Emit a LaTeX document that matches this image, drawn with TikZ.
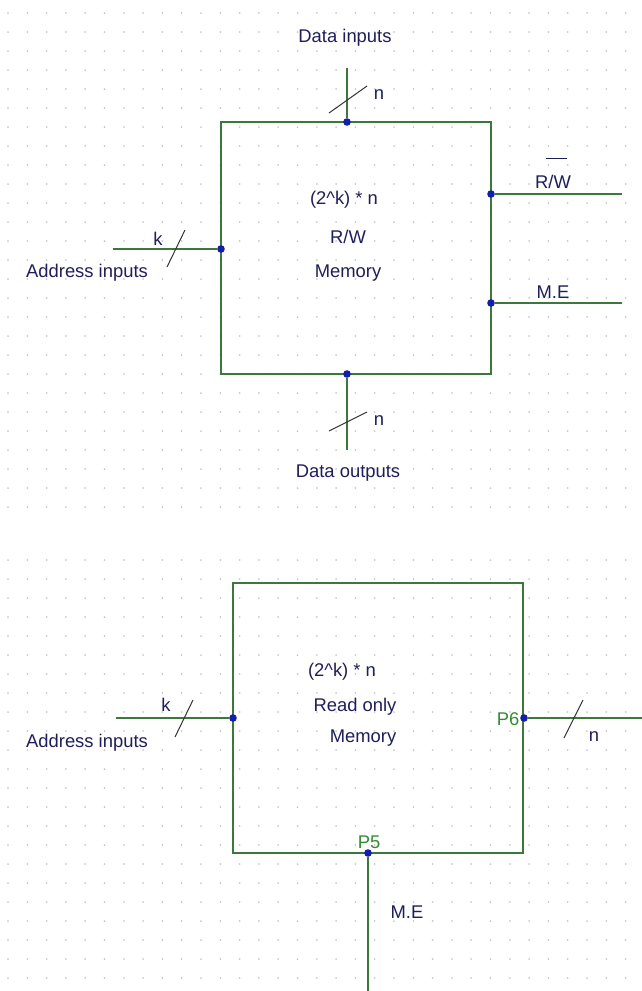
\documentclass[tikz,border=0pt]{standalone}
\usepackage{fontspec}
\setmainfont{Liberation Sans}
\definecolor{wirec}{RGB}{60,120,60}
\definecolor{pinc}{RGB}{20,30,170}
\definecolor{txtc}{RGB}{30,30,90}
\definecolor{lblc}{RGB}{50,140,50}
\definecolor{gridc}{RGB}{200,200,200}
\begin{document}
\begin{tikzpicture}[x=0.5pt,y=-0.5pt,
  wire/.style={draw=wirec,line width=0.65pt},
  pin/.style={circle,fill=pinc,inner sep=0pt,minimum size=3.8pt},
  txt/.style={text=txtc,font=\fontsize{9.2}{10}\selectfont,inner sep=0pt},
  lbl/.style={text=lblc,font=\fontsize{9.2}{10}\selectfont,inner sep=0pt},
  busslash/.style={draw=black!80,line width=0.5pt},
  gdot/.style={fill=gridc}]
\useasboundingbox (0,0) rectangle (642,991);
% dot grid
\foreach \i in {0,...,32}{
  \foreach \j in {0,...,26}{
    \fill[gdot] (8+19.3*\i,13+19*\j) circle (0.5pt);
  }
  \foreach \j in {0,...,22}{
    \fill[gdot] (8+19.3*\i,560+19*\j) circle (0.5pt);
  }
}
% ---------- top diagram: R/W memory ----------
\coordinate (b1nw) at (221,122);
\coordinate (b1se) at (491,374);
\draw[wire] (b1nw) rectangle (b1se);
\coordinate (dtop) at (347,68);
\node[pin] (pdin) at (347,122) {};
\draw[wire] (dtop) -- (pdin);
\draw[busslash] (329,113) -- (367,86);
\node[txt] (ndin) at (379,95) {n};
\node[txt] (tdin) at (345,38) {Data inputs};
\coordinate (aleft) at (113,249);
\node[pin] (padd) at (221,249) {};
\draw[wire] (aleft) -- (padd);
\draw[busslash] (167,267) -- (185,230);
\node[txt] (kadd) at (158,239) {k};
\node[txt] (tadd) at (87,273) {Address inputs};
\node[pin] (prw) at (491,194) {};
\coordinate (rwend) at (622,194);
\draw[wire] (prw) -- (rwend);
\node[txt] (trw) at (553,182) {R/W};
\draw[txtc,line width=0.5pt] (546,158) -- (567,158);
\node[pin] (pme) at (491,303) {};
\coordinate (meend) at (622,303);
\draw[wire] (pme) -- (meend);
\node[txt] (tme) at (553,292) {M.E};
\node[txt] (c1a) at (344,200) {(2\^{}k) * n};
\node[txt] (c1b) at (348,237) {R/W};
\node[txt] (c1c) at (348,273) {Memory};
\node[pin] (pdout) at (347,374) {};
\coordinate (dbot) at (347,450);
\draw[wire] (pdout) -- (dbot);
\draw[busslash] (329,431) -- (367,412);
\node[txt] (ndout) at (379,421) {n};
\node[txt] (tdout) at (348,473) {Data outputs};
% ---------- bottom diagram: ROM ----------
\coordinate (b2nw) at (233,583);
\coordinate (b2se) at (523,853);
\draw[wire] (b2nw) rectangle (b2se);
\coordinate (aleft2) at (116,718);
\node[pin] (padd2) at (233,718) {};
\draw[wire] (aleft2) -- (padd2);
\draw[busslash] (175,737) -- (193,700);
\node[txt] (kadd2) at (166,705) {k};
\node[txt] (tadd2) at (87,743) {Address inputs};
\node[pin] (p6) at (524,718) {};
\coordinate (outend) at (642,718);
\draw[wire] (p6) -- (outend);
\draw[busslash] (564,738) -- (583,700);
\node[txt] (nout) at (594,737) {n};
\node[lbl] (tp6) at (508,719) {P6};
\node[pin] (p5) at (368,853) {};
\coordinate (meend2) at (368,991);
\draw[wire] (p5) -- (meend2);
\node[lbl] (tp5) at (369,842) {P5};
\node[txt] (tme2) at (407,912) {M.E};
\node[txt] (c2a) at (342,672) {(2\^{}k) * n};
\node[txt] (c2b) at (355,707) {Read only};
\node[txt] (c2c) at (363,738) {Memory};
\end{tikzpicture}
\end{document}
